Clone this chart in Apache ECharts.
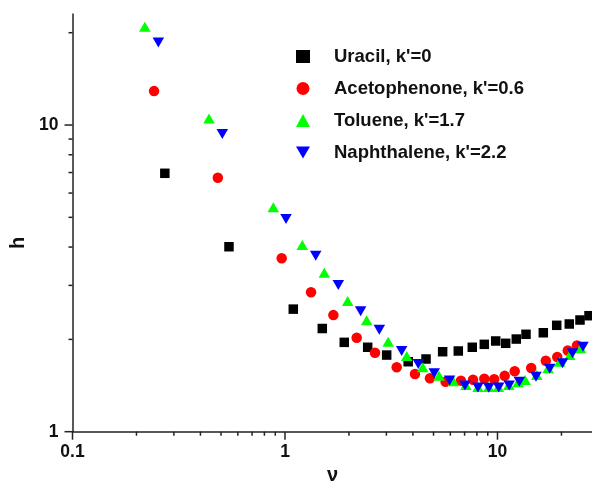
<!DOCTYPE html>
<html>
<head>
<meta charset="utf-8">
<script src="https://cdn.jsdelivr.net/npm/echarts@6/dist/echarts.min.js"></script>
<style>
html,body{margin:0;padding:0;background:#fff;}
#chart{width:592px;height:490px;}
</style>
</head>
<body>
<div id="chart"></div>
<script>
// ---- data (nu, h) ----
const seriesNames = ["Uracil, k'=0", "Acetophenone, k'=0.6", "Toluene, k'=1.7", "Naphthalene, k'=2.2"];

const uracil = [
  [0.272, 6.96], [0.545, 4.01], [1.094, 2.51], [1.498, 2.17], [1.901, 1.956],
  [2.45, 1.885], [3.01, 1.778], [3.80, 1.691], [4.61, 1.726], [5.52, 1.823],
  [6.54, 1.833], [7.61, 1.885], [8.67, 1.927], [9.81, 1.976], [10.93, 1.942],
  [12.26, 2.005], [13.62, 2.078], [16.43, 2.102], [19.0, 2.223], [21.77, 2.245],
  [24.45, 2.313], [26.96, 2.389]
];

const acetophenone = [
  [0.242, 12.9], [0.483, 6.73], [0.965, 3.68], [1.326, 2.85], [1.689, 2.40],
  [2.175, 2.026], [2.652, 1.81], [3.355, 1.622], [4.09, 1.542], [4.81, 1.493],
  [5.70, 1.456], [6.73, 1.467], [7.67, 1.477], [8.67, 1.489], [9.65, 1.482],
  [10.81, 1.521], [12.05, 1.574], [14.41, 1.613], [16.88, 1.704], [19.11, 1.752],
  [21.42, 1.840], [23.67, 1.910]
];

const toluene = [
  [0.219, 20.9], [0.439, 10.5], [0.881, 5.39], [1.206, 4.06], [1.531, 3.30],
  [1.972, 2.67], [2.423, 2.31], [3.06, 1.966], [3.74, 1.765], [4.45, 1.622],
  [5.31, 1.523], [6.2, 1.46], [7.1, 1.42], [8.1, 1.40], [9.1, 1.40],
  [10.1, 1.40], [11.3, 1.42], [12.5, 1.45], [13.5, 1.474], [15.3, 1.53],
  [17.3, 1.61], [19.6, 1.69], [21.9, 1.78], [24.6, 1.87]
];

const naphthalene = [
  [0.2535, 18.6], [0.507, 9.35], [1.011, 4.94], [1.395, 3.75], [1.782, 3.01],
  [2.27, 2.47], [2.779, 2.15], [3.54, 1.833], [4.24, 1.662], [5.04, 1.55],
  [5.95, 1.47], [7.03, 1.415], [8.09, 1.394], [9.10, 1.391], [10.13, 1.394],
  [11.35, 1.415], [12.67, 1.456], [15.18, 1.512], [17.61, 1.604], [20.23, 1.671],
  [22.54, 1.801], [25.26, 1.893]
];

// axis ranges and tick values
const xRange = [0.1, 28];
const yRange = [1, 23];
const xMajorTicks = [0.1, 1, 10];
const xMinorTicks = [0.2, 0.3, 0.4, 0.5, 0.6, 0.7, 0.8, 0.9, 2, 3, 4, 5, 6, 7, 8, 9, 20];
const yMajorTicks = [1, 10];
const yMinorTicks = [2, 3, 4, 5, 6, 7, 8, 9, 20];

// ---- chart ----
const FONT = '"Liberation Sans", Arial, sans-serif';
const chart = echarts.init(document.getElementById('chart'), null, {renderer: 'canvas'});

function isPow10(v) {
  const l = Math.log10(v);
  return Math.abs(l - Math.round(l)) < 1e-6;
}
function fmt(v) {
  return isPow10(v) ? String(Number(v.toPrecision(6))) : '';
}

function xTickSeries(values, len) {
  return {
    type: 'custom', silent: true, clip: false, z: 5,
    data: values.map(v => [v, yRange[0]]),
    renderItem: function (params, api) {
      const p = api.coord([api.value(0), api.value(1)]);
      return {type: 'line', shape: {x1: p[0], y1: p[1], x2: p[0], y2: p[1] + len},
              style: {stroke: '#222', lineWidth: 1.5}};
    }
  };
}
function yTickSeries(values, len) {
  return {
    type: 'custom', silent: true, clip: false, z: 5,
    data: values.map(v => [xRange[0], v]),
    renderItem: function (params, api) {
      const p = api.coord([api.value(0), api.value(1)]);
      return {type: 'line', shape: {x1: p[0], y1: p[1], x2: p[0] - len, y2: p[1]},
              style: {stroke: '#222', lineWidth: 1.5}};
    }
  };
}

const downTri = 'path://M0,0 L12,0 L6,10.4 Z';

const option = {
  backgroundColor: '#fff',
  animation: false,
  grid: {left: 72.5, top: 14.1, width: 520, height: 417.6, containLabel: false, outerBoundsMode: 'none'},
  legend: {
    orient: 'vertical', left: 291, top: 42,
    itemWidth: 14, itemHeight: 13, itemGap: 13,
    data: seriesNames,
    itemStyle: {opacity: 1},
    textStyle: {fontFamily: FONT, fontWeight: 'bold', fontSize: 18.5, color: '#111', padding: [0, 0, 0, 19]}
  },
  xAxis: {
    type: 'log', logBase: 10, min: xRange[0], max: xRange[1],
    name: 'ν', nameLocation: 'middle', nameGap: 24,
    nameTextStyle: {fontFamily: FONT, fontWeight: 'bold', fontSize: 20, color: '#111'},
    axisLine: {show: true, lineStyle: {color: '#222', width: 1.5}},
    axisTick: {show: false},
    splitLine: {show: false},
    minorTick: {show: false},
    axisLabel: {show: true, margin: 11, formatter: fmt,
      fontFamily: FONT, fontWeight: 'bold', fontSize: 17.5, color: '#111'}
  },
  yAxis: {
    type: 'log', logBase: 10, min: yRange[0], max: yRange[1],
    name: 'h', nameLocation: 'middle', nameGap: 42,
    nameTextStyle: {fontFamily: FONT, fontWeight: 'bold', fontSize: 20, color: '#111', padding: [0, 40, 0, 0]},
    axisLine: {show: true, lineStyle: {color: '#222', width: 1.5}},
    axisTick: {show: false},
    splitLine: {show: false},
    minorTick: {show: false},
    axisLabel: {show: true, margin: 14, formatter: fmt,
      fontFamily: FONT, fontWeight: 'bold', fontSize: 17.5, color: '#111'}
  },
  series: [
    {name: seriesNames[0], type: 'scatter', data: uracil, symbol: 'rect', symbolSize: 9.5,
     itemStyle: {color: '#000000', opacity: 1}, z: 2},
    {name: seriesNames[1], type: 'scatter', data: acetophenone, symbol: 'circle', symbolSize: 10.5,
     itemStyle: {color: '#ff0000', opacity: 1}, z: 3},
    {name: seriesNames[2], type: 'scatter', data: toluene, symbol: 'triangle', symbolSize: [11.5, 10],
     itemStyle: {color: '#00ff00', opacity: 1}, z: 4},
    {name: seriesNames[3], type: 'scatter', data: naphthalene, symbol: downTri, symbolSize: [11.5, 10],
     itemStyle: {color: '#0000ff', opacity: 1}, z: 5},
    xTickSeries(xMajorTicks, 8),
    xTickSeries(xMinorTicks, 4),
    yTickSeries(yMajorTicks, 8),
    yTickSeries(yMinorTicks, 4)
  ]
};
chart.setOption(option);
</script>
</body>
</html>
